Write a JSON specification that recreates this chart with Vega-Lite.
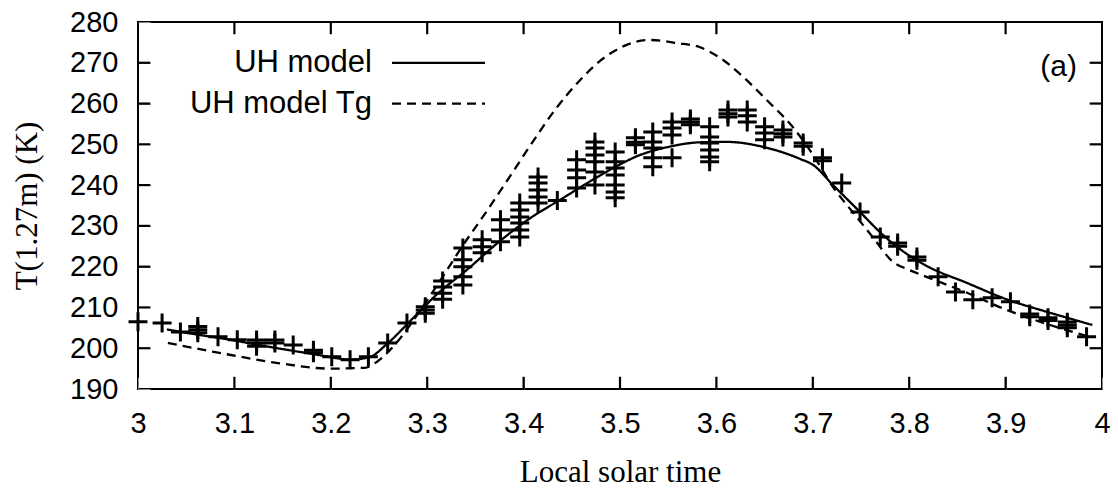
{
  "$schema": "https://vega.github.io/schema/vega-lite/v6.json",
  "autosize": "none",
  "width": 964,
  "height": 367,
  "padding": {"left": 138, "top": 22, "right": 16, "bottom": 99},
  "background": "white",
  "config": {
    "view": {"stroke": "black", "strokeWidth": 2},
    "axis": {
      "domain": false,
      "grid": false,
      "tickSize": 12,
      "offset": -12,
      "labelFlush": false,
      "labelFont": "Liberation Sans",
      "labelFontSize": 29,
      "labelColor": "black",
      "titleFont": "Liberation Serif",
      "titleFontSize": 31,
      "titleFontWeight": "normal",
      "titleColor": "black"
    }
  },
  "datasets": {
    "model": [
      {"series": "UH model", "t": 3.03, "T": 204.6},
      {"series": "UH model", "t": 3.06, "T": 203.4},
      {"series": "UH model", "t": 3.095, "T": 202.1},
      {"series": "UH model", "t": 3.13, "T": 200.6},
      {"series": "UH model", "t": 3.16, "T": 199.4},
      {"series": "UH model", "t": 3.186, "T": 198.4},
      {"series": "UH model", "t": 3.205, "T": 197.6},
      {"series": "UH model", "t": 3.22, "T": 197.2},
      {"series": "UH model", "t": 3.24, "T": 197.8},
      {"series": "UH model", "t": 3.258, "T": 201.0},
      {"series": "UH model", "t": 3.285, "T": 207.3},
      {"series": "UH model", "t": 3.31, "T": 213.2},
      {"series": "UH model", "t": 3.341, "T": 219.2},
      {"series": "UH model", "t": 3.375, "T": 226.2},
      {"series": "UH model", "t": 3.41, "T": 232.4},
      {"series": "UH model", "t": 3.438, "T": 236.4},
      {"series": "UH model", "t": 3.466, "T": 240.5},
      {"series": "UH model", "t": 3.493, "T": 244.2},
      {"series": "UH model", "t": 3.521, "T": 247.4},
      {"series": "UH model", "t": 3.549, "T": 249.3},
      {"series": "UH model", "t": 3.583, "T": 250.5},
      {"series": "UH model", "t": 3.611, "T": 250.6},
      {"series": "UH model", "t": 3.648, "T": 249.4},
      {"series": "UH model", "t": 3.687, "T": 246.4},
      {"series": "UH model", "t": 3.7, "T": 245.0},
      {"series": "UH model", "t": 3.721, "T": 240.0},
      {"series": "UH model", "t": 3.749, "T": 233.4},
      {"series": "UH model", "t": 3.77, "T": 228.4},
      {"series": "UH model", "t": 3.79, "T": 224.4},
      {"series": "UH model", "t": 3.818, "T": 220.2},
      {"series": "UH model", "t": 3.86, "T": 216.0},
      {"series": "UH model", "t": 3.901, "T": 212.0},
      {"series": "UH model", "t": 3.946, "T": 208.7},
      {"series": "UH model", "t": 3.99, "T": 205.7},
      {"series": "UH model Tg", "t": 3.031, "T": 201.3},
      {"series": "UH model Tg", "t": 3.095, "T": 198.4},
      {"series": "UH model Tg", "t": 3.147, "T": 196.3},
      {"series": "UH model Tg", "t": 3.199, "T": 195.0},
      {"series": "UH model Tg", "t": 3.235, "T": 195.2},
      {"series": "UH model Tg", "t": 3.248, "T": 196.7},
      {"series": "UH model Tg", "t": 3.268, "T": 201.3},
      {"series": "UH model Tg", "t": 3.292, "T": 209.0},
      {"series": "UH model Tg", "t": 3.316, "T": 217.5},
      {"series": "UH model Tg", "t": 3.337, "T": 225.2},
      {"series": "UH model Tg", "t": 3.36, "T": 233.0},
      {"series": "UH model Tg", "t": 3.386, "T": 242.2},
      {"series": "UH model Tg", "t": 3.41, "T": 250.8},
      {"series": "UH model Tg", "t": 3.433, "T": 258.6},
      {"series": "UH model Tg", "t": 3.458, "T": 265.6},
      {"series": "UH model Tg", "t": 3.479, "T": 270.4},
      {"series": "UH model Tg", "t": 3.505, "T": 274.2},
      {"series": "UH model Tg", "t": 3.53, "T": 275.6},
      {"series": "UH model Tg", "t": 3.56, "T": 274.8},
      {"series": "UH model Tg", "t": 3.583, "T": 273.8},
      {"series": "UH model Tg", "t": 3.605, "T": 271.0},
      {"series": "UH model Tg", "t": 3.628, "T": 266.5},
      {"series": "UH model Tg", "t": 3.652, "T": 260.9},
      {"series": "UH model Tg", "t": 3.679, "T": 254.3},
      {"series": "UH model Tg", "t": 3.7, "T": 247.5},
      {"series": "UH model Tg", "t": 3.721, "T": 239.5},
      {"series": "UH model Tg", "t": 3.742, "T": 233.2},
      {"series": "UH model Tg", "t": 3.762, "T": 227.3},
      {"series": "UH model Tg", "t": 3.783, "T": 221.2},
      {"series": "UH model Tg", "t": 3.8, "T": 219.2},
      {"series": "UH model Tg", "t": 3.818, "T": 217.5},
      {"series": "UH model Tg", "t": 3.86, "T": 213.6},
      {"series": "UH model Tg", "t": 3.901, "T": 209.4},
      {"series": "UH model Tg", "t": 3.946, "T": 205.7},
      {"series": "UH model Tg", "t": 3.99, "T": 202.6}
    ],
    "obs": [
      {"t": 3.0, "T": 206.5}, {"t": 3.025, "T": 206.2}, {"t": 3.044, "T": 204.0},
      {"t": 3.062, "T": 204.5}, {"t": 3.062, "T": 205.3}, {"t": 3.062, "T": 203.8},
      {"t": 3.083, "T": 202.8}, {"t": 3.103, "T": 202.1},
      {"t": 3.123, "T": 201.3}, {"t": 3.123, "T": 202.0}, {"t": 3.123, "T": 200.5},
      {"t": 3.142, "T": 201.3}, {"t": 3.142, "T": 202.0},
      {"t": 3.161, "T": 200.8},
      {"t": 3.182, "T": 198.9}, {"t": 3.182, "T": 199.5},
      {"t": 3.201, "T": 197.9}, {"t": 3.22, "T": 197.2}, {"t": 3.239, "T": 197.9},
      {"t": 3.259, "T": 201.3}, {"t": 3.279, "T": 206.2},
      {"t": 3.298, "T": 209.4}, {"t": 3.298, "T": 210.2}, {"t": 3.298, "T": 208.6},
      {"t": 3.316, "T": 216.5}, {"t": 3.316, "T": 215.0}, {"t": 3.316, "T": 213.5}, {"t": 3.316, "T": 212.0},
      {"t": 3.337, "T": 224.6}, {"t": 3.337, "T": 221.7}, {"t": 3.337, "T": 220.0}, {"t": 3.337, "T": 217.5}, {"t": 3.337, "T": 215.5},
      {"t": 3.357, "T": 226.6}, {"t": 3.357, "T": 224.9}, {"t": 3.357, "T": 223.4},
      {"t": 3.376, "T": 231.5}, {"t": 3.376, "T": 229.0}, {"t": 3.376, "T": 226.1},
      {"t": 3.396, "T": 235.6}, {"t": 3.396, "T": 233.9}, {"t": 3.396, "T": 232.2}, {"t": 3.396, "T": 230.7}, {"t": 3.396, "T": 229.0}, {"t": 3.396, "T": 227.3},
      {"t": 3.415, "T": 242.0}, {"t": 3.415, "T": 240.5}, {"t": 3.415, "T": 238.8}, {"t": 3.415, "T": 237.1}, {"t": 3.415, "T": 235.6},
      {"t": 3.435, "T": 236.2},
      {"t": 3.455, "T": 246.2}, {"t": 3.455, "T": 243.7}, {"t": 3.455, "T": 241.8}, {"t": 3.455, "T": 239.3},
      {"t": 3.474, "T": 250.6}, {"t": 3.474, "T": 249.1}, {"t": 3.474, "T": 247.4}, {"t": 3.474, "T": 245.7}, {"t": 3.474, "T": 243.2}, {"t": 3.474, "T": 240.0},
      {"t": 3.495, "T": 248.1}, {"t": 3.495, "T": 245.7}, {"t": 3.495, "T": 244.2}, {"t": 3.495, "T": 242.5}, {"t": 3.495, "T": 240.0}, {"t": 3.495, "T": 238.3}, {"t": 3.495, "T": 236.9},
      {"t": 3.516, "T": 251.6}, {"t": 3.516, "T": 250.5}, {"t": 3.516, "T": 249.9},
      {"t": 3.534, "T": 253.0}, {"t": 3.534, "T": 250.6}, {"t": 3.534, "T": 249.1}, {"t": 3.534, "T": 246.7}, {"t": 3.534, "T": 244.5},
      {"t": 3.554, "T": 255.5}, {"t": 3.554, "T": 254.0}, {"t": 3.554, "T": 252.3}, {"t": 3.554, "T": 246.7},
      {"t": 3.573, "T": 256.2}, {"t": 3.573, "T": 255.5}, {"t": 3.573, "T": 254.8},
      {"t": 3.593, "T": 254.3}, {"t": 3.593, "T": 251.8}, {"t": 3.593, "T": 250.3}, {"t": 3.593, "T": 248.6}, {"t": 3.593, "T": 246.9}, {"t": 3.593, "T": 245.7},
      {"t": 3.612, "T": 258.4}, {"t": 3.612, "T": 257.5}, {"t": 3.612, "T": 256.7},
      {"t": 3.632, "T": 258.4}, {"t": 3.632, "T": 257.0}, {"t": 3.632, "T": 255.5},
      {"t": 3.65, "T": 254.3}, {"t": 3.65, "T": 252.8}, {"t": 3.65, "T": 251.1},
      {"t": 3.669, "T": 253.5}, {"t": 3.669, "T": 252.6}, {"t": 3.669, "T": 251.8},
      {"t": 3.69, "T": 250.3}, {"t": 3.69, "T": 249.5},
      {"t": 3.71, "T": 246.7}, {"t": 3.71, "T": 246.0},
      {"t": 3.73, "T": 240.5}, {"t": 3.749, "T": 233.4}, {"t": 3.77, "T": 227.3},
      {"t": 3.788, "T": 225.8}, {"t": 3.788, "T": 225.0},
      {"t": 3.808, "T": 222.4}, {"t": 3.808, "T": 221.6},
      {"t": 3.83, "T": 217.5}, {"t": 3.848, "T": 213.8}, {"t": 3.866, "T": 211.9},
      {"t": 3.886, "T": 212.4}, {"t": 3.905, "T": 211.4},
      {"t": 3.925, "T": 207.7}, {"t": 3.925, "T": 208.4},
      {"t": 3.944, "T": 207.5}, {"t": 3.944, "T": 206.8},
      {"t": 3.964, "T": 205.7}, {"t": 3.964, "T": 206.4}, {"t": 3.964, "T": 205.0},
      {"t": 3.984, "T": 202.8}
    ],
    "xticks": [
      {"t": 3.1}, {"t": 3.2}, {"t": 3.3}, {"t": 3.4}, {"t": 3.5},
      {"t": 3.6}, {"t": 3.7}, {"t": 3.8}, {"t": 3.9}
    ],
    "yticks": [
      {"T": 200}, {"T": 210}, {"T": 220}, {"T": 230}, {"T": 240},
      {"T": 250}, {"T": 260}, {"T": 270}
    ],
    "key": [
      {"series": "UH model", "tx": 3.2427, "x1": 3.2635, "x2": 3.36, "T": 270},
      {"series": "UH model Tg", "tx": 3.2427, "x1": 3.2635, "x2": 3.36, "T": 260}
    ],
    "panel": [
      {"label": "(a)", "t": 3.955, "T": 269}
    ]
  },
  "layer": [
    {
      "data": {"name": "model"},
      "mark": {"type": "line", "color": "black", "strokeWidth": 2.3, "interpolate": "monotone"},
      "encoding": {
        "x": {
          "field": "t", "type": "quantitative",
          "scale": {"domain": [3, 4], "nice": false, "zero": false},
          "axis": {
            "orient": "bottom",
            "values": [3, 3.1, 3.2, 3.3, 3.4, 3.5, 3.6, 3.7, 3.8, 3.9, 4],
            "format": "~g",
            "labelPadding": 20,
            "title": "Local solar time",
            "titlePadding": 19
          }
        },
        "y": {
          "field": "T", "type": "quantitative",
          "scale": {"domain": [190, 280], "nice": false, "zero": false},
          "axis": {
            "orient": "left",
            "values": [190, 200, 210, 220, 230, 240, 250, 260, 270, 280],
            "format": "d",
            "labelPadding": 20,
            "title": "T(1.27m) (K)",
            "titlePadding": 26
          }
        },
        "detail": {"field": "series"},
        "strokeDash": {
          "field": "series", "type": "nominal",
          "scale": {"domain": ["UH model", "UH model Tg"], "range": [[1, 0], [9, 6]]},
          "legend": null
        }
      }
    },
    {
      "data": {"name": "xticks"},
      "mark": {"type": "rule", "color": "black", "strokeWidth": 2.2},
      "encoding": {
        "x": {"field": "t", "type": "quantitative"},
        "y": {"datum": 190, "type": "quantitative"},
        "y2": {"datum": 193}
      }
    },
    {
      "data": {"name": "xticks"},
      "mark": {"type": "rule", "color": "black", "strokeWidth": 2.2},
      "encoding": {
        "x": {"field": "t", "type": "quantitative"},
        "y": {"datum": 280, "type": "quantitative"},
        "y2": {"datum": 277}
      }
    },
    {
      "data": {"name": "yticks"},
      "mark": {"type": "rule", "color": "black", "strokeWidth": 2.2},
      "encoding": {
        "y": {"field": "T", "type": "quantitative"},
        "x": {"datum": 3, "type": "quantitative"},
        "x2": {"datum": 3.0128}
      }
    },
    {
      "data": {"name": "yticks"},
      "mark": {"type": "rule", "color": "black", "strokeWidth": 2.2},
      "encoding": {
        "y": {"field": "T", "type": "quantitative"},
        "x": {"datum": 4, "type": "quantitative"},
        "x2": {"datum": 3.9872}
      }
    },
    {
      "data": {"name": "obs"},
      "mark": {
        "type": "point",
        "shape": "M-1,0H1M0,-1V1",
        "size": 360,
        "filled": false,
        "stroke": "black",
        "strokeWidth": 3,
        "opacity": 1
      },
      "encoding": {
        "x": {"field": "t", "type": "quantitative"},
        "y": {"field": "T", "type": "quantitative"}
      }
    },
    {
      "data": {"name": "key"},
      "mark": {
        "type": "text",
        "align": "right",
        "baseline": "middle",
        "font": "Liberation Sans",
        "fontSize": 31,
        "color": "black"
      },
      "encoding": {
        "x": {"field": "tx", "type": "quantitative"},
        "y": {"field": "T", "type": "quantitative"},
        "text": {"field": "series"}
      }
    },
    {
      "data": {"name": "key"},
      "mark": {"type": "rule", "color": "black", "strokeWidth": 2.3},
      "encoding": {
        "x": {"field": "x1", "type": "quantitative"},
        "x2": {"field": "x2"},
        "y": {"field": "T", "type": "quantitative"},
        "strokeDash": {
          "field": "series", "type": "nominal",
          "scale": {"domain": ["UH model", "UH model Tg"], "range": [[1, 0], [9, 6]]},
          "legend": null
        }
      }
    },
    {
      "data": {"name": "panel"},
      "mark": {
        "type": "text",
        "align": "center",
        "baseline": "middle",
        "font": "Liberation Sans",
        "fontSize": 30,
        "color": "black"
      },
      "encoding": {
        "x": {"field": "t", "type": "quantitative"},
        "y": {"field": "T", "type": "quantitative"},
        "text": {"field": "label"}
      }
    }
  ]
}
